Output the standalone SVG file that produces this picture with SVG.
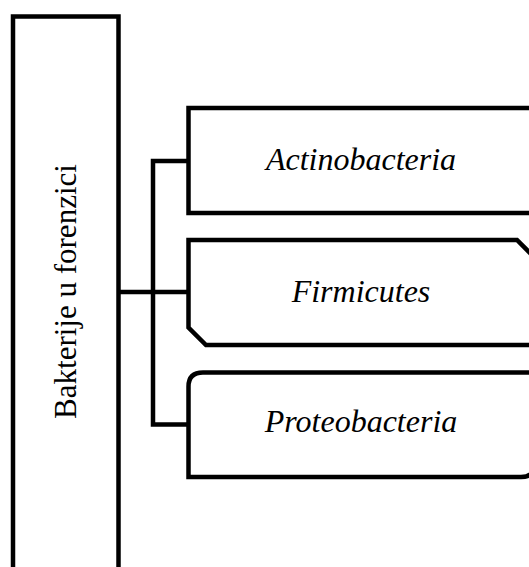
<svg xmlns="http://www.w3.org/2000/svg" width="529" height="567" viewBox="0 0 529 567">
<style>
.box{fill:#fff;stroke:#000;stroke-width:4.5;stroke-linejoin:miter}
.lbl{font-family:"Liberation Serif","Times New Roman",serif;font-style:italic;font-size:32px;fill:#000;text-anchor:middle}
.main{font-family:"Liberation Serif","Times New Roman",serif;font-size:31px;fill:#000;text-anchor:middle}
.conn{fill:none;stroke:#000;stroke-width:4.5;stroke-linejoin:miter}
</style>
<rect width="529" height="567" fill="#fff"/>
<g id="root">
<rect class="box" x="13" y="16.5" width="105.5" height="570"/>
<text class="main" transform="translate(76,291.5) rotate(-90)">Bakterije u forenzici</text>
</g>
<g id="connectors">
<path class="conn" d="M118.5 292 H188"/>
<path class="conn" d="M188 161 H153 V424.5 H188"/>
</g>
<g id="actinobacteria">
<rect class="box" x="188.5" y="108" width="346" height="105"/>
<text class="lbl" x="361" y="170">Actinobacteria</text>
</g>
<g id="firmicutes">
<path class="box" d="M188.5 240 H517 L535 258 V345 H206 L188.5 327.5 Z"/>
<text class="lbl" x="361" y="302">Firmicutes</text>
</g>
<g id="proteobacteria">
<path class="box" d="M203 372.5 H535 V463 Q535 477 521 477 H188.5 V386.5 Q188.5 372.5 203 372.5 Z"/>
<text class="lbl" x="361" y="432">Proteobacteria</text>
</g>
</svg>
